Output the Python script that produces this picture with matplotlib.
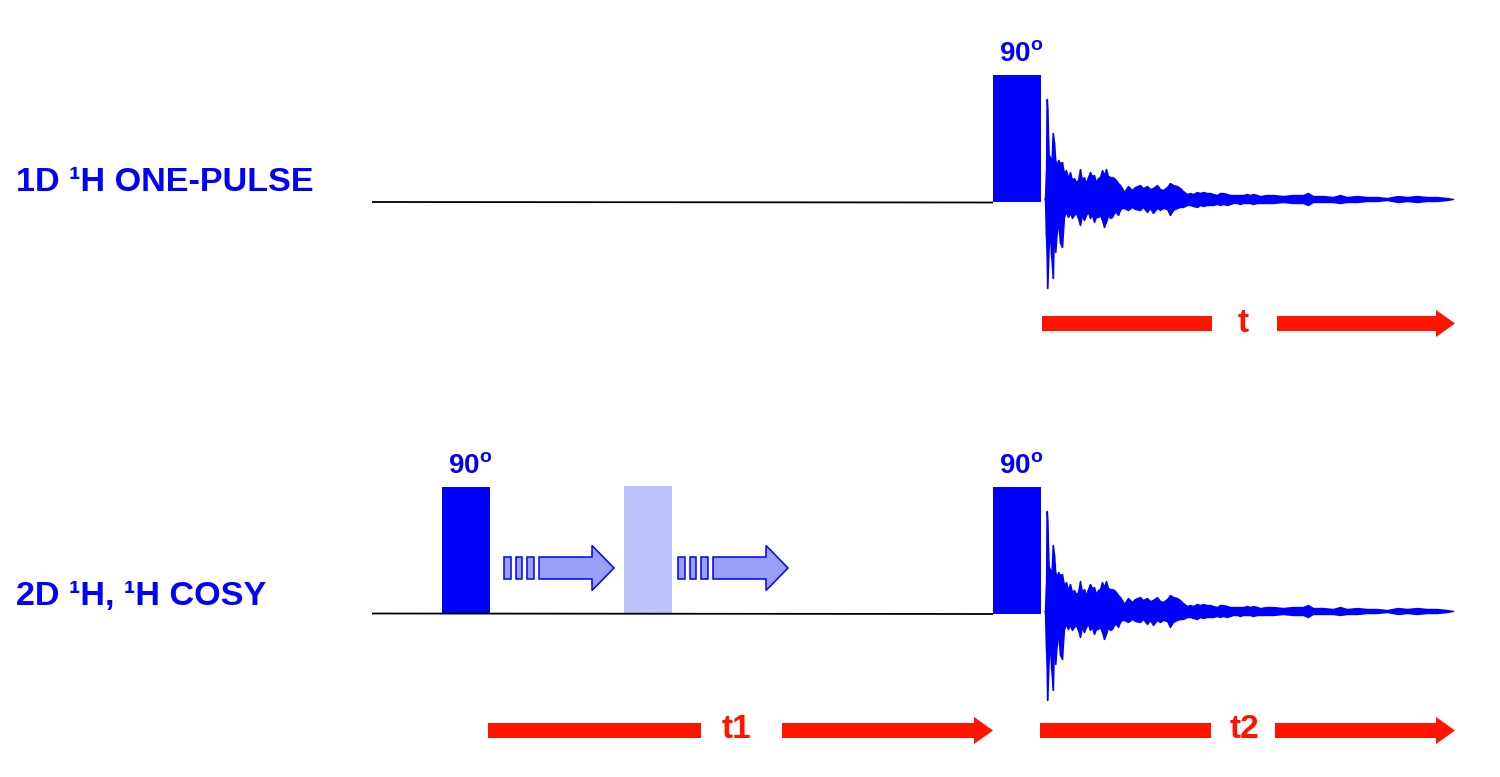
import matplotlib
matplotlib.use("Agg")
import matplotlib.pyplot as plt
import matplotlib.patches as mpatches
import numpy as np

plt.rcParams['font.family'] = ['Liberation Sans', 'DejaVu Sans']
plt.rcParams['mathtext.fontset'] = 'custom'
plt.rcParams['mathtext.rm'] = 'Liberation Sans:bold'
plt.rcParams['mathtext.bf'] = 'Liberation Sans:bold'
plt.rcParams['mathtext.it'] = 'Liberation Sans:bold'

# ---------------- data ----------------
sequence_labels = ["1D \u00b9H ONE-PULSE", "2D \u00b9H, \u00b9H COSY"]
pulse_label = r"90$^{\mathrm{o}}$"
time_labels_1d = ["t"]
time_labels_2d = ["t1", "t2"]

# pulse sequence timing (time axis in drawing units)
seq_start = 372
pulses_1d = [993]
pulses_2d = [442, 993]
pulse_len = 48
incremented_pulse = 624           # faded pulse showing t1 increment
increment_arrows = [504, 678]     # start of "moving" arrows

# FID amplitudes: time, positive and negative excursions
fid_time = [1044.5, 1045, 1046, 1046.7, 1047.3, 1048.7, 1050, 1051.3, 1052.7, 1054,
            1055.3, 1056.7, 1058.3, 1060, 1062, 1064, 1066, 1068, 1070, 1072,
            1074, 1076, 1078, 1080, 1082, 1084, 1086, 1088, 1090, 1092,
            1094, 1096, 1098, 1100, 1102, 1104, 1106, 1108, 1110, 1112,
            1114, 1116, 1118, 1120, 1122, 1124, 1128, 1132, 1135, 1140,
            1143, 1147, 1150, 1153, 1157, 1160, 1163, 1167, 1170, 1173,
            1177, 1180, 1183, 1187, 1190, 1193, 1197, 1200, 1203, 1207,
            1210, 1213, 1217, 1220, 1223, 1227, 1230, 1233, 1237, 1240,
            1243, 1247, 1250, 1253, 1257, 1260, 1267, 1273, 1283, 1293,
            1303, 1308, 1313, 1323, 1333, 1340, 1347, 1357, 1367, 1377,
            1387, 1398, 1407, 1417, 1427, 1437, 1447, 1453]
fid_pos = [0, 1, 27, 100, 91, 44, 42, 34, 66, 57,
           39, 34, 39, 36, 37, 26, 29, 21, 27, 19,
           21, 17, 19, 30, 19, 22, 16, 22, 27, 23,
           24, 17, 21, 22, 29, 24, 30, 23, 22, 22,
           21, 19, 16, 14, 11, 7, 13, 9, 12, 14,
           11, 13, 10, 11, 14, 10, 9, 12, 16, 14,
           13, 11, 8, 5, 6, 5, 7, 6, 7, 6,
           6, 5, 4, 6, 6, 5, 4, 4, 4, 4,
           4, 5, 4, 5, 4, 3, 4, 4, 3, 4,
           4, 6, 3, 3, 2, 4, 2, 3, 2, 2,
           1, 3, 2, 3, 2, 2, 1, 0]
fid_neg = [0, 1, 38, 56, 89, 48, 34, 58, 79, 31,
           53, 34, 23, 44, 48, 18, 13, 18, 14, 19,
           16, 14, 19, 26, 16, 21, 16, 13, 19, 16,
           23, 18, 18, 16, 21, 28, 23, 16, 19, 18,
           14, 13, 16, 11, 9, 9, 11, 8, 10, 11,
           8, 13, 9, 14, 9, 11, 9, 10, 16, 11,
           9, 8, 8, 6, 6, 7, 8, 6, 7, 6,
           6, 6, 5, 6, 5, 6, 5, 4, 4, 5,
           4, 4, 4, 5, 4, 4, 4, 4, 3, 4,
           4, 6, 3, 3, 3, 4, 3, 3, 2, 2,
           1, 3, 2, 3, 2, 2, 1, 0]

# ---------------- layout / style ----------------
BLUE = '#0000ff'
RED = '#ff1400'
LIGHT = '#bfc3ff'
ARROW_FILL = '#98a0f8'
W, H = 1500, 777

fig = plt.figure(figsize=(W / 100, H / 100), dpi=100)
ax = fig.add_axes([0, 0, 1, 1])
ax.set_xlim(0, W)
ax.set_ylim(H, 0)
ax.axis('off')

rows = [
    dict(base=202, pulse_top=75, fid_base=199, arrow_y=323.5, label_y=191,
         pulses=pulses_1d, label=sequence_labels[0]),
    dict(base=613.5, pulse_top=487, fid_base=611, arrow_y=730.5, label_y=605,
         pulses=pulses_2d, label=sequence_labels[1]),
]

ft = np.array(fid_time, dtype=float)
fp = np.array(fid_pos, dtype=float)
fn = np.array(fid_neg, dtype=float)

for r in rows:
    # sequence name
    ax.text(16, r['label_y'], r['label'], color=BLUE, fontsize=24.6,
            fontweight='bold', ha='left', va='baseline')
    # baseline
    ax.plot([seq_start, r['pulses'][-1]], [r['base'], r['base'] + 0.5],
            color='black', lw=1.3, solid_capstyle='butt')
    # pulses
    for p in r['pulses']:
        ax.add_patch(mpatches.Rectangle((p, r['pulse_top']), pulse_len,
                                        r['base'] - r['pulse_top'],
                                        facecolor=BLUE, edgecolor='none'))
        ax.text(p + pulse_len / 2 + 4, r['pulse_top'] - 14, pulse_label,
                color=BLUE, fontsize=20, fontweight='bold',
                ha='center', va='baseline')
    # FID
    b = r['fid_base']
    ax.fill_between(ft, b - fp, b + fn, color=BLUE, lw=1.0, edgecolor=BLUE)
    ax.vlines(ft, b - fp, b + fn, color=BLUE, lw=1.0)


def red_arrow(x0, gap0, gap1, tip, y, label, label_x):
    ax.add_patch(mpatches.Rectangle((x0, y - 7.5), gap0 - x0, 15,
                                    facecolor=RED, edgecolor='none'))
    ax.add_patch(mpatches.FancyArrow(gap1, y, tip - gap1, 0, width=15,
                                     head_width=27, head_length=19,
                                     length_includes_head=True,
                                     facecolor=RED, edgecolor='none'))
    ax.text(label_x, y + 8, label, color=RED, fontsize=24,
            fontweight='bold', ha='center', va='baseline')


red_arrow(1042, 1212, 1277, 1455, rows[0]['arrow_y'], time_labels_1d[0], 1243)
red_arrow(488, 701, 782, 993, rows[1]['arrow_y'], time_labels_2d[0], 736)
red_arrow(1040, 1211, 1275, 1455, rows[1]['arrow_y'], time_labels_2d[1], 1245)

# faded incremented pulse
ax.add_patch(mpatches.Rectangle((incremented_pulse, 486), pulse_len, 613.5 - 486,
                                facecolor=LIGHT, edgecolor='none'))

# moving arrows (t1 increment)
ya = 568
for xs in increment_arrows:
    for k in range(3):
        ax.add_patch(mpatches.Rectangle((xs + k * 11.5, ya - 11), 6.5, 22,
                                        facecolor=ARROW_FILL, edgecolor=BLUE, lw=1.1))
    ax.add_patch(mpatches.FancyArrow(xs + 35, ya, 75, 0, width=22,
                                     head_width=45, head_length=22,
                                     length_includes_head=True,
                                     facecolor=ARROW_FILL, edgecolor=BLUE, lw=1.1))

fig.savefig('out.png', dpi=100, facecolor='white')
